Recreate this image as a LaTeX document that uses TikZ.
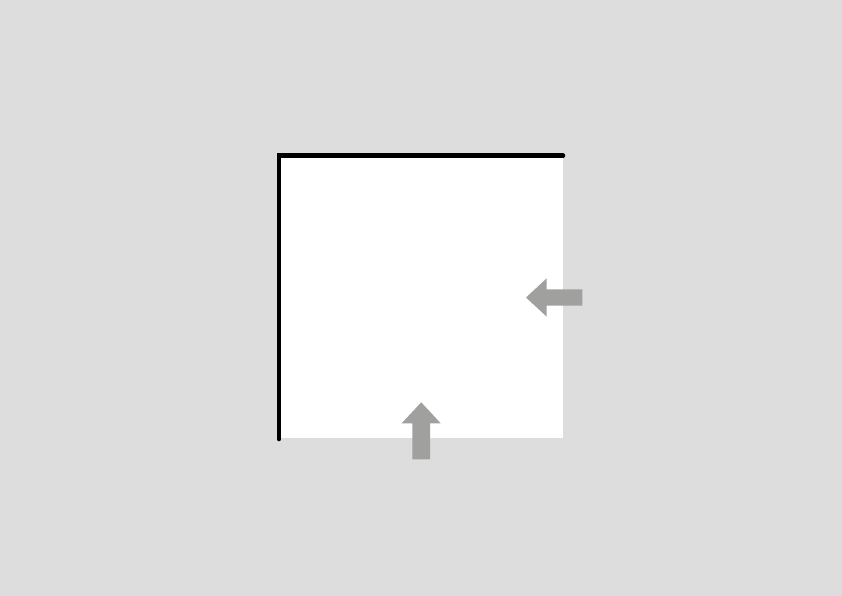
\documentclass[tikz,border=0pt]{standalone}
\usepackage{tikz}

\definecolor{paper}{RGB}{220,221,220}
\definecolor{pushgray}{RGB}{160,160,159}

\begin{document}
\begin{tikzpicture}[x=1pt, y=-1pt]

	\tikzset{wall/.style={black, line width=4.6pt, line cap=round, line join=miter},
		push/.style={fill=pushgray, draw=none}}

	% BACKGROUND
	\fill[paper] (0, 0) rectangle (842, 596);
	\useasboundingbox (0, 0) rectangle (842, 596);

	% Open square
	\fill[white] (279, 155.8) rectangle (562.7, 438.3);

	% Walls (top and left)
	\draw[wall] (563, 155.8) -- (279, 155.8) -- (279, 439);

	% Arrow from the right side
	\fill[push] (526, 297.5) -- (546.7, 278.3) -- (546.7, 289.3) -- (582.3, 289.3)
		-- (582.3, 305.7) -- (546.7, 305.7) -- (546.7, 316.7) -- cycle;

	% Arrow from the bottom side
	\fill[push] (421.2, 402.3) -- (440.7, 423.3) -- (430, 423.3) -- (430, 459.3)
		-- (412.3, 459.3) -- (412.3, 423.3) -- (401.7, 423.3) -- cycle;

\end{tikzpicture}
\end{document}
